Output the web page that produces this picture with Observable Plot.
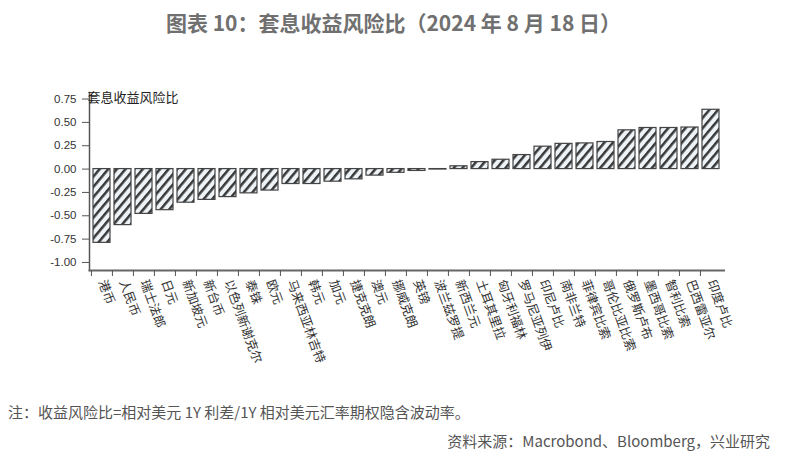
<!DOCTYPE html>
<html><head><meta charset="utf-8">
<script src="https://cdn.jsdelivr.net/npm/d3@7"></script>
<script src="https://cdn.jsdelivr.net/npm/@observablehq/plot@0.6"></script>
<style>
body{margin:0;background:#fff;width:787px;height:461px;position:relative;overflow:hidden;font-family:"Noto Sans CJK SC",sans-serif}
#title{position:absolute;left:0;width:787px;top:8px;text-align:center;font-size:21px;line-height:29px;color:#707070;font-weight:bold}
#chart{position:absolute;left:0;top:60px}
#note{position:absolute;left:8px;top:401px;font-size:15px;line-height:22px;color:#555}
#source{position:absolute;right:17px;top:430px;font-size:15px;line-height:22px;color:#555}
</style></head><body>
<div id="title">图表 10：套息收益风险比（2024 年 8 月 18 日）</div>
<div id="chart"></div>
<div id="note">注：收益风险比=相对美元 1Y 利差/1Y 相对美元汇率期权隐含波动率。</div>
<div id="source">资料来源：Macrobond、Bloomberg，兴业研究</div>
<script>
const currencies = ["港币","人民币","瑞士法郎","日元","新加坡元","新台币","以色列新谢克尔","泰铢","欧元","马来西亚林吉特","韩元","加元","捷克克朗","澳元","挪威克朗","英镑","波兰兹罗提","新西兰元","土耳其里拉","匈牙利福林","罗马尼亚列伊","印尼卢比","南非兰特","菲律宾比索","哥伦比亚比索","俄罗斯卢布","墨西哥比索","智利比索","巴西雷亚尔","印度卢比"];
const ratios = [-0.79,-0.60,-0.48,-0.44,-0.36,-0.33,-0.30,-0.26,-0.23,-0.16,-0.16,-0.135,-0.11,-0.07,-0.04,-0.02,-0.005,0.03,0.075,0.10,0.15,0.24,0.27,0.275,0.29,0.415,0.44,0.44,0.445,0.635];
const yTicks = [-1,-0.75,-0.5,-0.25,0,0.25,0.5,0.75];
const yDomain = [-1.086, 0.82];
const yLabel = "套息收益风险比";

const data = currencies.map((c,i)=>({currency:c, ratio:ratios[i]}));
const W = 787, H = 330, ML = 89, MR = 63.5;
const step = (W - ML - MR) / currencies.length;
const plot = Plot.plot({
  width: W, height: H, marginLeft: ML, marginRight: MR, marginTop: 32, marginBottom: 120,
  style: {background: "transparent", color: "#333", fontFamily: "Noto Sans CJK SC"},
  x: {domain: currencies, paddingInner: 0.2, paddingOuter: 0.1},
  y: {domain: yDomain},
  marks: [
    Plot.barY(data, {x: "currency", y: "ratio", fill: "url(#hatch)", stroke: "#444", strokeWidth: 1.2}),
    Plot.frame({anchor: "left", stroke: "#555", strokeWidth: 1.5}),
    Plot.frame({anchor: "bottom", stroke: "#666", strokeWidth: 2}),
    Plot.axisY({ticks: yTicks, tickFormat: d => d.toFixed(2), tickSize: 7, tickPadding: 6, fontSize: 11.5, fontFamily: "Liberation Sans", stroke: "#555", fill: "#333", label: null}),
    Plot.axisX({tickSize: 6, fill: null, stroke: "#555", dx: -step/2, label: null}),
    Plot.axisX({tickSize: 6, stroke: null, tickPadding: 4, tickRotate: 70, fontSize: 12.5, fill: "#333", label: null}),
    Plot.text([yLabel], {frameAnchor: "top-left", text: d => d, textAnchor: "start", lineAnchor: "middle", dx: -2, dy: 5, fontSize: 13, fill: "#222"})
  ]
});
const svg = d3.select(plot);
const defs = svg.insert("defs", ":first-child");
const pat = defs.append("pattern").attr("id", "hatch").attr("patternUnits", "userSpaceOnUse")
  .attr("width", 10).attr("height", 6.6).attr("patternTransform", "rotate(-50)");
pat.append("rect").attr("width", 10).attr("height", 6.6).attr("fill", "#eef3f8");
pat.append("rect").attr("width", 10).attr("height", 2.5).attr("fill", "#383838");
document.getElementById("chart").appendChild(plot);
</script>
</body></html>
